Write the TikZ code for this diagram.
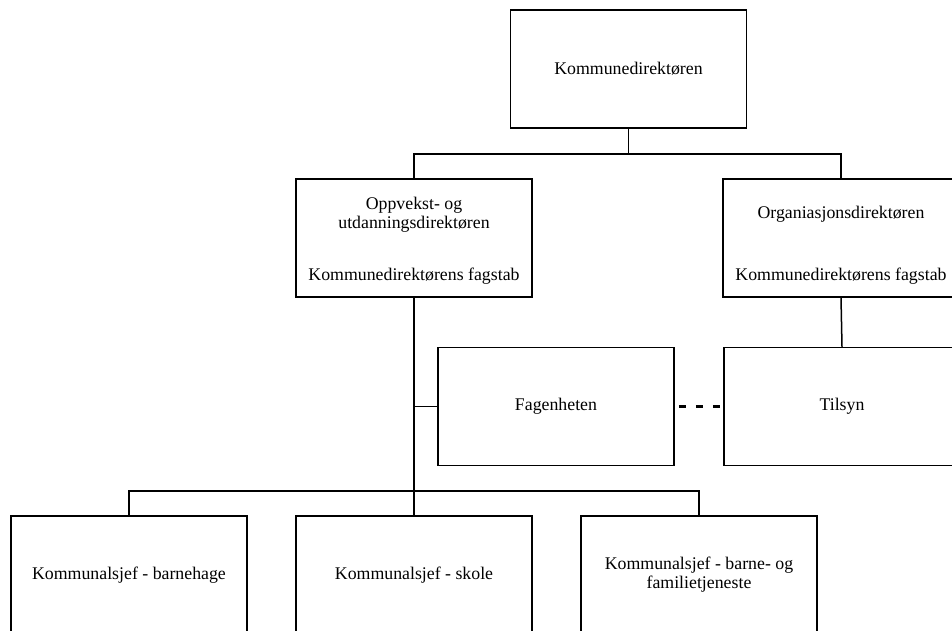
\documentclass[tikz,border=0pt]{standalone}
\usepackage{fontspec}
\setmainfont{Liberation Serif}
\begin{document}
\begin{tikzpicture}[x=1pt,y=-1pt,
  orgbox/.style={draw, rectangle, line width=1.5pt, minimum width=236pt, minimum height=118pt, inner sep=0pt, align=center, font=\fontsize{17.8}{19}\selectfont},
  label/.style={inner sep=0pt, align=center, font=\fontsize{17.8}{19}\selectfont},
  link/.style={line width=1.5pt},
  thinlink/.style={line width=1pt},
  dashlink/.style={line width=2.4pt, dash pattern=on 7pt off 10pt, shorten <=4pt}]
\useasboundingbox (0,0) rectangle (952,630);
\fill[white] (0,0) rectangle (952,630);
\clip (0,0) rectangle (952,630);

\node[orgbox] (kd) at (628.5,69) {Kommunedirektøren};
\node[orgbox] (opp) at (414,238) {};
\node[label] (oppa) at (414,215) {Oppvekst- og\\utdanningsdirektøren};
\node[label] (oppb) at (414,276) {Kommunedirektørens fagstab};
\node[orgbox] (org) at (841,238) {};
\node[label] (orga) at (841,214) {Organiasjonsdirektøren};
\node[label] (orgb) at (841,276) {Kommunedirektørens fagstab};
\node[orgbox] (fag) at (556,406.5) {Fagenheten};
\node[orgbox] (til) at (842,406.5) {Tilsyn};
\node[orgbox] (b1) at (129,575) {Kommunalsjef - barnehage};
\node[orgbox] (b2) at (414,575) {Kommunalsjef - skole};
\node[orgbox] (b3) at (699,575) {Kommunalsjef - barne- og\\familietjeneste};

\coordinate (bar1) at (628.5,154);
\coordinate (bar2) at (414,491);

\draw[link] (kd.south) -- (bar1);
\draw[link] (opp.north) |- (bar1) -| (org.north);
\draw[link] (opp.south) -- (bar2);
\draw[link] (b1.north) |- (bar2) -| (b3.north);
\draw[link] (bar2) -- (b2.north);
\draw[thinlink] (fag.west) -- (fag.west -| opp.south);
\draw[link] (org.south) -- (til.north);
\draw[dashlink] (fag.east) -- (til.west);
\end{tikzpicture}
\end{document}
